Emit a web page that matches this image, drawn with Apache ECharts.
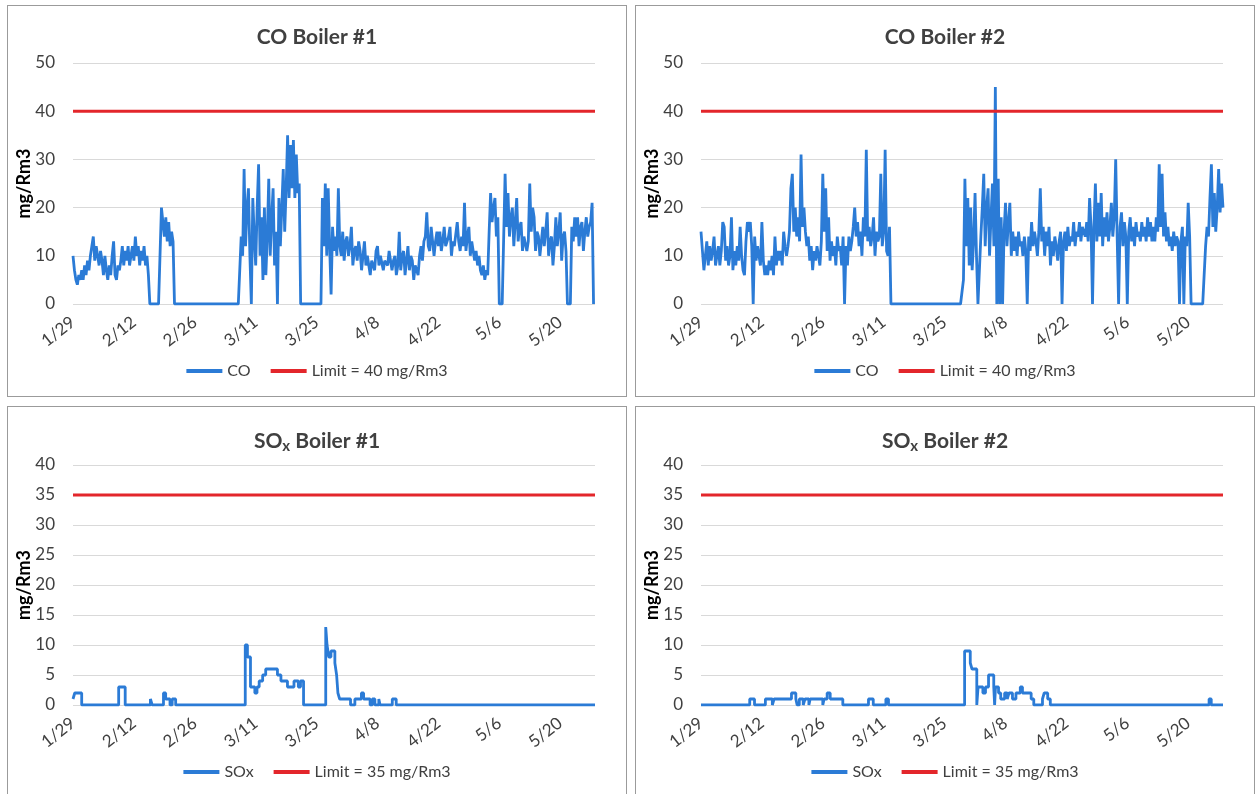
<!DOCTYPE html>
<html>
<head>
<meta charset="utf-8">
<script src="https://cdn.jsdelivr.net/npm/echarts@6/dist/echarts.min.js"></script>
<style>
  body { margin: 0; background: #fff; width: 1258px; height: 794px; overflow: hidden; position: relative; }
  .panel { position: absolute; width: 620px; border: 1px solid #9b9b9b; box-sizing: border-box; background: #fff; }
</style>
</head>
<body>
<div id="co1" class="panel" style="left:7px; top:5px; height:392px;"></div>
<div id="co2" class="panel" style="left:635px; top:5px; height:392px;"></div>
<div id="sox1" class="panel" style="left:7px; top:406px; height:400px;"></div>
<div id="sox2" class="panel" style="left:635px; top:406px; height:400px;"></div>

<script>
// x axis: days since 1/29, labelled every 14 days
const dateLabels = ['1/29', '2/12', '2/26', '3/11', '3/25', '4/8', '4/22', '5/6', '5/20'];
const lastDay = 120;

// CO readings, three values a day starting 1/29 (mg/Rm3)
const coBoiler1 = [
  10, 7, 5, 4, 6, 5, 7, 5, 8, 6, 9, 7, 10, 12, 14,
  9, 12, 10, 8, 11, 9, 6, 10, 7, 5, 8, 6, 10, 13, 6,
  5, 8, 7, 9, 12, 8, 11, 9, 12, 8, 10, 12, 9, 14, 10,
  12, 8, 11, 9, 12, 8, 10, 6, 0, 0, 0, 0, 0, 0, 0,
  0, 20, 20, 14, 18, 13, 17, 12, 15, 13, 0, 0, 0, 0, 0,
  0, 0, 0, 0, 0, 0, 0, 0, 0, 0, 0, 0, 0, 0, 0,
  0, 0, 0, 0, 0, 0, 0, 0, 0, 0, 0, 0, 0, 0, 0,
  0, 0, 0, 0, 0, 0, 0, 0, 0, 0, 0, 14, 10, 28, 12,
  20, 24, 10, 0, 22, 14, 8, 20, 29, 10, 18, 5, 20, 6, 14,
  26, 10, 18, 24, 8, 15, 0, 22, 12, 20, 28, 15, 24, 35, 22,
  33, 24, 34, 22, 31, 23, 25, 0, 0, 0, 0, 0, 0, 0, 0,
  0, 0, 0, 0, 0, 0, 0, 22, 12, 25, 10, 24, 12, 2, 16,
  11, 14, 10, 24, 12, 10, 15, 9, 13, 14, 10, 12, 16, 8, 11,
  12, 9, 13, 11, 7, 10, 13, 8, 10, 10, 6, 9, 9, 7, 11,
  12, 8, 10, 10, 7, 9, 9, 8, 11, 11, 7, 9, 10, 6, 8,
  15, 7, 10, 11, 6, 9, 12, 7, 10, 9, 5, 8, 8, 6, 10,
  12, 9, 13, 14, 19, 12, 11, 16, 13, 10, 13, 15, 12, 15, 11,
  13, 16, 12, 12, 14, 16, 10, 13, 12, 12, 17, 13, 11, 14, 12,
  21, 11, 14, 16, 10, 13, 13, 9, 11, 8, 10, 7, 6, 8, 5,
  7, 6, 15, 23, 17, 20, 22, 14, 18, 0, 0, 0, 0, 27, 16,
  23, 14, 18, 20, 12, 17, 22, 13, 16, 17, 11, 14, 14, 11, 13,
  25, 15, 20, 18, 11, 15, 14, 10, 13, 16, 12, 15, 19, 10, 13,
  14, 8, 12, 18, 12, 15, 19, 9, 14, 15, 11, 0, 0, 0, 16,
  13, 18, 14, 18, 12, 16, 17, 11, 15, 18, 14, 16, 17, 21, 0
];
const coBoiler2 = [
  15, 11, 7, 10, 13, 8, 12, 9, 11, 14, 8, 10, 12, 8, 11,
  17, 16, 9, 12, 8, 10, 18, 7, 11, 8, 12, 9, 16, 10, 7,
  6, 13, 17, 15, 17, 12, 0, 14, 9, 12, 10, 8, 17, 9, 6,
  8, 6, 9, 7, 10, 6, 14, 8, 11, 9, 11, 8, 15, 12, 10,
  12, 15, 24, 27, 15, 20, 14, 18, 13, 31, 16, 20, 15, 12, 14,
  9, 12, 7, 11, 9, 12, 10, 8, 13, 27, 15, 24, 11, 18, 9,
  13, 10, 12, 8, 14, 11, 12, 8, 14, 0, 12, 8, 14, 11, 13,
  16, 20, 14, 17, 12, 15, 10, 18, 14, 32, 13, 16, 12, 14, 18,
  10, 15, 13, 14, 27, 12, 15, 32, 11, 10, 16, 0, 0, 0, 0,
  0, 0, 0, 0, 0, 0, 0, 0, 0, 0, 0, 0, 0, 0, 0,
  0, 0, 0, 0, 0, 0, 0, 0, 0, 0, 0, 0, 0, 0, 0,
  0, 0, 0, 0, 0, 0, 0, 0, 0, 0, 0, 0, 0, 0, 0,
  0, 5, 26, 12, 22, 8, 20, 7, 13, 23, 10, 0, 0, 14, 20,
  27, 12, 20, 24, 10, 18, 25, 12, 45, 0, 26, 0, 18, 0, 15,
  21, 12, 17, 21, 10, 15, 11, 14, 10, 15, 12, 13, 10, 14, 11,
  0, 14, 11, 17, 12, 15, 13, 10, 15, 24, 13, 16, 10, 15, 12,
  16, 8, 13, 10, 14, 12, 9, 13, 15, 0, 13, 15, 11, 16, 12,
  14, 13, 17, 12, 15, 14, 17, 13, 16, 15, 14, 17, 13, 22, 16,
  0, 16, 25, 13, 21, 14, 23, 12, 18, 14, 19, 13, 16, 21, 14,
  18, 30, 14, 0, 16, 19, 12, 17, 14, 0, 15, 18, 13, 16, 12,
  17, 14, 15, 13, 17, 14, 16, 13, 18, 14, 17, 13, 16, 13, 18,
  15, 29, 16, 27, 14, 19, 13, 16, 12, 14, 11, 15, 12, 14, 13,
  0, 13, 16, 0, 14, 12, 21, 14, 0, 0, 0, 0, 0, 0, 0,
  0, 0, 0, 12, 16, 14, 22, 29, 16, 23, 15, 20, 28, 19, 25,
  20
];

// SOx readings as [day, value] steps (value holds until the next entry)
const soxBoiler1 = [
  [0, 1], [0.4, 2], [2, 0], [10.5, 3], [12, 0], [17.8, 1], [18.2, 0], [20.8, 2], [21.3, 1],
  [22.3, 0], [22.8, 1], [23.6, 0], [39.6, 10], [40.1, 8], [40.8, 3], [41.8, 2], [42.3, 3],
  [42.8, 4], [43.6, 5], [44.3, 6], [47, 5], [47.8, 4], [49.3, 3], [50.8, 4], [51.8, 3],
  [52.3, 4], [53, 0], [58.1, 13], [58.4, 10], [58.8, 8], [59.3, 9], [60.2, 7], [60.6, 5],
  [60.9, 2], [61.3, 1], [63.8, 0], [64.8, 1], [66.3, 2], [66.8, 1], [68.3, 0], [68.8, 1],
  [69.4, 0], [70.3, 1], [70.6, 0], [73.4, 1], [74.3, 0], [120, 0]
];
const soxBoiler2 = [
  [0, 0], [11.2, 1], [12.3, 0], [14.8, 1], [16.4, 0], [16.8, 1], [20.8, 2], [21.8, 1],
  [22.1, 0], [22.6, 1], [23.5, 0], [23.9, 1], [24.8, 0], [25.1, 1], [28, 0], [28.3, 1],
  [29, 2], [29.7, 1], [32.6, 0], [38.5, 1], [39.6, 0], [42.5, 1], [43.1, 0], [60.6, 9],
  [61.9, 7], [62.3, 6], [63.4, 0], [63.7, 3], [64.8, 2], [65.4, 3], [66.1, 5], [67.3, 3],
  [67.5, 0], [67.7, 3], [68.4, 2], [68.9, 1], [69.8, 2], [70.4, 1], [70.8, 2], [71.6, 1],
  [72.4, 2], [73.4, 3], [73.9, 2], [75.9, 1], [76.5, 0], [78.5, 1], [78.9, 2], [79.7, 1],
  [80.3, 0], [116.8, 1], [117.3, 0], [120, 0]
];

const coLimit = 40;
const soxLimit = 35;

const BLUE = '#2b7bd6';
const RED = '#e3262b';
const FONT = 'Lato';

// readings are every third of a day
function thirdDays (vals) {
  return vals.map((v, i) => [i / 3, v]);
}

function buildPanel (id, cfg) {
  let chart = echarts.init(document.getElementById(id));
  chart.setOption({
    animation: false,
    title: {
      text: cfg.title,
      left: 'center',
      top: 16,
      textStyle: {
        rich: {
          a: { fontFamily: FONT, fontSize: 21, fontWeight: 'bold', color: '#404040' },
          b: { fontFamily: FONT, fontSize: 15, fontWeight: 'bold', color: '#404040', padding: [11, 0, 0, 0] }
        }
      }
    },
    legend: {
      left: 'center',
      top: 352,
      icon: 'rect',
      itemWidth: 36,
      itemHeight: 4,
      itemGap: 20,
      textStyle: { fontFamily: FONT, fontSize: 16, color: '#404040' },
      data: [cfg.name, cfg.limitName]
    },
    // fixed plot box, labels may sit outside it
    grid: { left: 65, top: cfg.top, width: 522, height: cfg.height, outerBoundsMode: 'none' },
    xAxis: {
      type: 'value',
      min: 0,
      max: lastDay,
      interval: 14,
      axisLine: { show: false },
      axisTick: { show: false },
      splitLine: { show: false },
      axisLabel: {
        rotate: 38,
        margin: 16,
        fontFamily: FONT,
        fontSize: 17,
        color: '#404040',
        formatter: v => dateLabels[v / 14] || ''
      }
    },
    yAxis: {
      type: 'value',
      min: 0,
      max: cfg.yMax,
      interval: cfg.yStep,
      name: 'mg/Rm3',
      nameLocation: 'middle',
      nameRotate: 90,
      nameGap: 40,
      nameMoveOverlap: false,
      nameTextStyle: { fontFamily: FONT, fontSize: 18, fontWeight: 'bold', color: '#000' },
      axisLine: { show: false },
      axisTick: { show: false },
      axisLabel: { margin: 18, fontFamily: FONT, fontSize: 17, color: '#404040' },
      splitLine: { lineStyle: { color: '#d9d9d9', width: 1 } }
    },
    series: [
      {
        name: cfg.name,
        type: 'line',
        data: cfg.data,
        step: cfg.step,
        showSymbol: false,
        lineStyle: { color: BLUE, width: 2.8 },
        itemStyle: { color: BLUE }
      },
      {
        name: cfg.limitName,
        type: 'line',
        data: [[0, cfg.limit], [lastDay, cfg.limit]],
        showSymbol: false,
        lineStyle: { color: RED, width: 3 },
        itemStyle: { color: RED }
      }
    ]
  });
}

buildPanel('co1', {
  title: '{a|CO Boiler #1}', name: 'CO', limitName: 'Limit = 40 mg/Rm3',
  data: thirdDays(coBoiler1), step: false, limit: coLimit,
  yMax: 50, yStep: 10, top: 57, height: 241
});
buildPanel('co2', {
  title: '{a|CO Boiler #2}', name: 'CO', limitName: 'Limit = 40 mg/Rm3',
  data: thirdDays(coBoiler2), step: false, limit: coLimit,
  yMax: 50, yStep: 10, top: 57, height: 241
});
buildPanel('sox1', {
  title: '{a|SO}{b|x}{a| Boiler #1}', name: 'SOx', limitName: 'Limit = 35 mg/Rm3',
  data: soxBoiler1, step: 'end', limit: soxLimit,
  yMax: 40, yStep: 5, top: 58, height: 240
});
buildPanel('sox2', {
  title: '{a|SO}{b|x}{a| Boiler #2}', name: 'SOx', limitName: 'Limit = 35 mg/Rm3',
  data: soxBoiler2, step: 'end', limit: soxLimit,
  yMax: 40, yStep: 5, top: 58, height: 240
});
</script>
</body>
</html>
